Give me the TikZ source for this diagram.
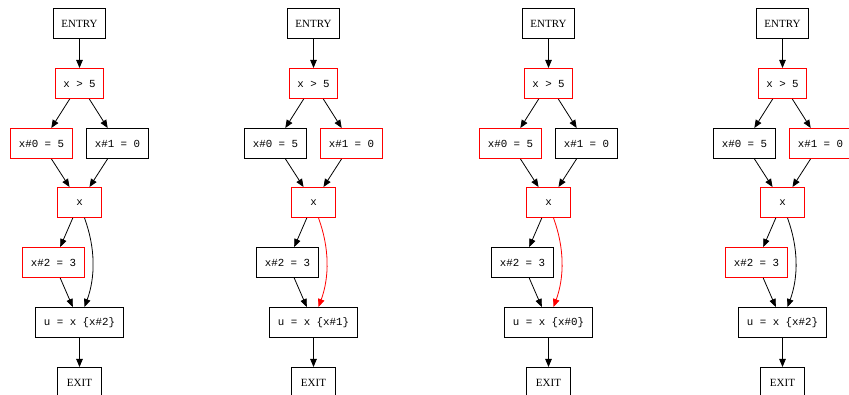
\documentclass[tikz,border=0pt]{standalone}
\usepackage{fontspec}
\setmainfont{Liberation Serif}
\setmonofont{Liberation Mono}
\usetikzlibrary{arrows.meta,calc}
\definecolor{gvred}{RGB}{255,0,0}
\tikzset{
  box/.style={rectangle, draw, line width=1pt, minimum height=30pt, inner xsep=3pt, inner ysep=0pt},
  lbl/.style={box, font=\fontsize{11}{13}\selectfont},
  code/.style={box, font=\ttfamily\fontsize{10.8}{13}\selectfont},
  hot/.style={draw=gvred},
  cold/.style={draw=black},
  edge/.style={line width=0.8pt, -{Triangle[length=8pt,width=6.5pt]}},
  hotedge/.style={edge, color=gvred},
}
\newcommand\cfgpanel[7]{%
  \node[lbl,minimum width=52pt] (en#1) at (#2,23.5) {ENTRY};
  \node[code,hot,minimum width=48pt] (gt#1) at (#2,83.5) {x > 5};
  \node[code,#3,minimum width=62pt] (a#1) at (#2-38,143.5) {x\#0 = 5};
  \node[code,#4,minimum width=62pt] (b#1) at (#2+38,143.5) {x\#1 = 0};
  \node[code,hot,minimum width=44pt] (xx#1) at (#2,202.5) {x};
  \node[code,#5,minimum width=62pt] (c#1) at (#2-26,262.5) {x\#2 = 3};
  \node[code,minimum width=88pt] (u#1) at (#2,322.5) {u = x \{#7\}};
  \node[lbl,minimum width=44pt] (ex#1) at (#2,382.5) {EXIT};
  \draw[edge] (en#1) -- (gt#1);
  \draw[edge] (gt#1) -- (a#1);
  \draw[edge] (gt#1) -- (b#1);
  \draw[edge] (a#1) -- (xx#1);
  \draw[edge] (b#1) -- (xx#1);
  \draw[edge] (xx#1) -- (c#1);
  \draw[edge] (c#1) -- (u#1);
  \draw[#6] ($(xx#1.south)+(5,0)$) .. controls ($(xx#1.south)+(16,30)$) and ($(u#1.north)+(16,-30)$) .. ($(u#1.north)+(5,0)$);
  \draw[edge] (u#1) -- (ex#1);
}
\begin{document}
\begin{tikzpicture}[x=1pt,y=-1pt]
  \useasboundingbox (0,0) rectangle (849,395);
  \clip (0,0) rectangle (849,395);
  \cfgpanel{1}{79.5}{hot}{cold}{hot}{edge}{x\#2}
  \cfgpanel{2}{313.5}{cold}{hot}{cold}{hotedge}{x\#1}
  \cfgpanel{3}{548.5}{hot}{cold}{cold}{hotedge}{x\#0}
  \cfgpanel{4}{782.5}{cold}{hot}{hot}{edge}{x\#2}
\end{tikzpicture}
\end{document}
